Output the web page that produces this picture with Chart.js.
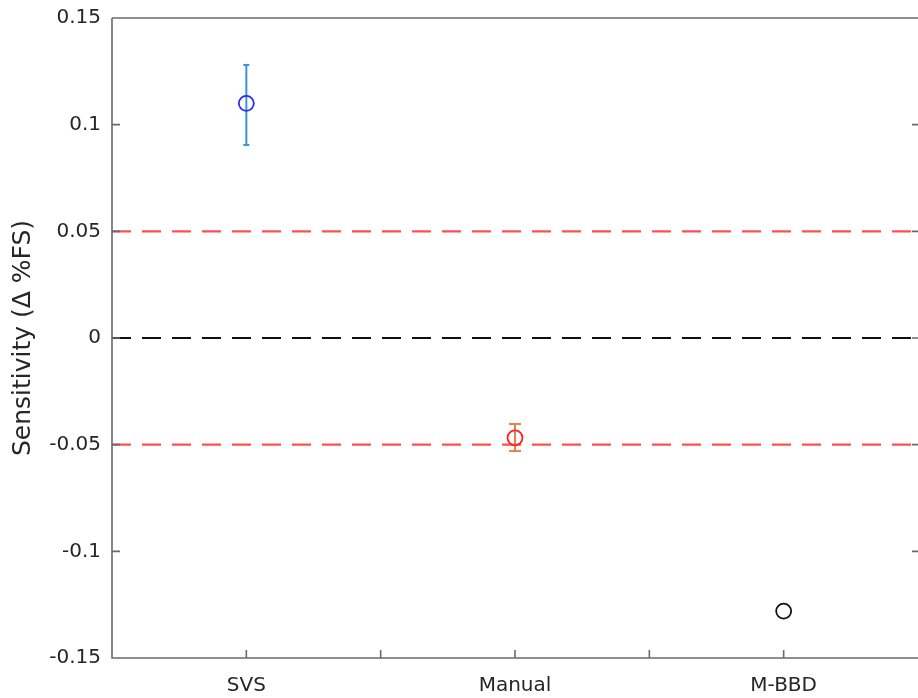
<!DOCTYPE html>
<html>
<head>
<meta charset="utf-8">
<script src="https://cdn.jsdelivr.net/npm/chart.js@4"></script>
<style>
  html, body { margin: 0; padding: 0; background: #fff; overflow: hidden; }
</style>
</head>
<body>
<canvas id="myChart" width="918" height="698"></canvas>
<script>
const categories = ['SVS', 'Manual', 'M-BBD'];
const means = [0.110, -0.0468, -0.128];
const errLow = [0.0905, -0.053, null];
const errHigh = [0.128, -0.0403, null];
const limitLines = [0.05, -0.05];
const zeroLine = 0;
const yTicks = [-0.15, -0.1, -0.05, 0, 0.05, 0.1, 0.15];

const markerColors = ['#2a2aff', '#ff2020', '#111111'];
const barColors = ['#3d93d6', '#e0834f', '#000000'];
const capSizes = [3, 6, 0];

const xMin = 0.5, xMax = categories.length + 0.5;

const datasets = [];
// markers first so they sit on top
categories.forEach((c, i) => {
  datasets.push({
    type: 'scatter',
    data: [{ x: i + 1, y: means[i] }],
    pointStyle: 'circle',
    pointRadius: 7.5,
    pointBorderWidth: 1.8,
    pointBorderColor: markerColors[i],
    pointBackgroundColor: 'rgba(0,0,0,0)',
    showLine: false
  });
});
// error bars
categories.forEach((c, i) => {
  if (errLow[i] === null) return;
  datasets.push({
    type: 'line',
    data: [{ x: i + 1, y: errLow[i] }, { x: i + 1, y: errHigh[i] }],
    borderColor: barColors[i],
    borderWidth: 2,
    pointStyle: 'line',
    pointRadius: capSizes[i],
    pointBorderWidth: 2,
    pointBorderColor: barColors[i]
  });
});
// reference lines
limitLines.forEach(v => {
  datasets.push({
    type: 'line',
    data: [{ x: xMin, y: v }, { x: xMax, y: v }],
    borderColor: '#ff5050',
    borderWidth: 2.2,
    borderDash: [19, 11],
    pointRadius: 0
  });
});
datasets.push({
  type: 'line',
  data: [{ x: xMin, y: zeroLine }, { x: xMax, y: zeroLine }],
  borderColor: '#111111',
  borderWidth: 2,
  borderDash: [19, 11],
  pointRadius: 0
});

// box (right edge falls just outside the picture) and inward ticks
const axisBox = {
  id: 'axisBox',
  afterDraw(chart) {
    const ctx = chart.ctx;
    const a = chart.chartArea;
    const xs = chart.scales.x, ys = chart.scales.y;
    ctx.save();
    ctx.strokeStyle = '#6a6a6a';
    ctx.lineWidth = 1.6;
    ctx.beginPath();
    ctx.moveTo(a.left, a.top); ctx.lineTo(a.right, a.top);
    ctx.moveTo(a.left, a.top); ctx.lineTo(a.left, a.bottom);
    ctx.lineTo(a.right, a.bottom);
    const tl = 8;
    xs.ticks.forEach(t => {
      const px = xs.getPixelForValue(t.value);
      if (px <= a.left + 1 || px >= a.right - 1) return;
      ctx.moveTo(px, a.bottom); ctx.lineTo(px, a.bottom - tl);
    });
    ys.ticks.forEach(t => {
      const py = ys.getPixelForValue(t.value);
      if (py <= a.top + 1 || py >= a.bottom - 1) return;
      ctx.moveTo(a.left, py); ctx.lineTo(a.left + tl, py);
      ctx.moveTo(a.right + 2, py); ctx.lineTo(a.right + 2 - tl, py);
    });
    ctx.stroke();
    ctx.restore();
  }
};

const ctx = document.getElementById('myChart').getContext('2d');
const myChart = new Chart(ctx, {
  data: { datasets: datasets },
  options: {
    responsive: false,
    animation: false,
    layout: { autoPadding: false, padding: { left: 0, top: 18, right: 0, bottom: 0 } },
    scales: {
      x: {
        type: 'linear',
        min: xMin,
        max: xMax,
        grid: { display: false, drawTicks: false },
        border: { display: false },
        afterFit: s => {
          s.height = 40;
          s.paddingLeft = 0;
          s.paddingRight = 0;
        },
        afterBuildTicks: s => {
          const t = [];
          for (let v = xMin; v <= xMax + 1e-9; v += 0.5) t.push({ value: v });
          s.ticks = t;
        },
        ticks: {
          autoSkip: false,
          maxRotation: 0,
          padding: 16,
          color: '#262626',
          font: { family: 'DejaVu Sans', size: 20 },
          callback: v => Number.isInteger(v) ? categories[v - 1] : ''
        }
      },
      y: {
        min: yTicks[0],
        max: yTicks[yTicks.length - 1],
        grid: { display: false, drawTicks: false },
        border: { display: false },
        afterFit: s => {
          s.width = 112;
          s.paddingTop = 0;
          s.paddingBottom = 0;
        },
        afterBuildTicks: s => { s.ticks = yTicks.map(v => ({ value: v })); },
        ticks: {
          padding: 11,
          color: '#262626',
          font: { family: 'DejaVu Sans', size: 20 },
          callback: v => String(Math.round(v * 100) / 100)
        },
        title: {
          display: true,
          text: 'Sensitivity (\u0394 %FS)',
          color: '#262626',
          font: { family: 'DejaVu Sans', size: 25 },
          padding: { top: 8, bottom: 0 }
        }
      }
    },
    plugins: {
      legend: { display: false },
      tooltip: { enabled: false }
    }
  },
  plugins: [axisBox]
});
</script>
</body>
</html>
